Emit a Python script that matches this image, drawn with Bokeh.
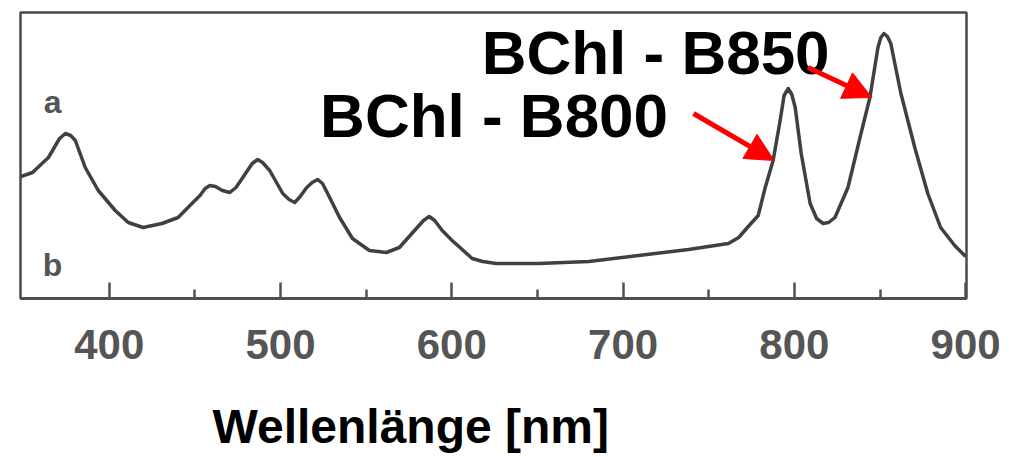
from bokeh.plotting import figure
from bokeh.models import Label, Arrow, NormalHead, FixedTicker, Range1d, Title
from bokeh.embed import file_html
from bokeh.resources import INLINE

# Absorption spectrum (arbitrary absorbance units)
wavelength = [347.0, 355.2, 364.5, 371.0, 374.4, 377.5, 380.2, 386.0, 393.6, 403.5,
              411.1, 419.8, 430.8, 440.2, 448.3, 453.0, 456.0, 458.8, 462.0, 466.0,
              470.4, 474.0, 478.0, 483.5, 486.7, 489.5, 493.7, 501.3, 505.0, 508.3,
              511.5, 515.3, 518.5, 521.7, 524.5, 527.5, 534.5, 542.0, 551.9, 561.8,
              569.4, 579.3, 583.5, 586.8, 590.0, 594.4, 600.2, 611.9, 618.0, 625.8,
              650.9, 680.0, 709.1, 738.2, 761.5, 767.5, 773.1, 778.9, 783.0, 787.6,
              791.7, 794.0, 796.4, 798.5, 800.5, 804.0, 809.2, 813.0, 816.8, 820.0,
              823.7, 831.3, 838.9, 844.1, 848.8, 850.5, 852.3, 854.3, 856.3, 862.2,
              870.3, 877.9, 885.4, 893.6, 900.0]
absorbance = [1.13, 1.18, 1.33, 1.52, 1.57, 1.55, 1.50, 1.23, 1.00, 0.80,
              0.68, 0.63, 0.67, 0.73, 0.87, 0.95, 1.02, 1.05, 1.04, 1.00,
              0.98, 1.03, 1.13, 1.27, 1.31, 1.28, 1.20, 0.97, 0.91, 0.88,
              0.94, 1.03, 1.08, 1.11, 1.07, 0.97, 0.73, 0.52, 0.40, 0.38,
              0.43, 0.62, 0.70, 0.74, 0.70, 0.60, 0.50, 0.32, 0.29, 0.27,
              0.27, 0.29, 0.35, 0.41, 0.47, 0.53, 0.64, 0.75, 1.03, 1.30,
              1.70, 1.95, 2.02, 1.96, 1.83, 1.37, 0.87, 0.72, 0.67, 0.68,
              0.73, 1.03, 1.57, 1.93, 2.43, 2.53, 2.57, 2.54, 2.47, 1.97,
              1.43, 0.97, 0.63, 0.45, 0.34]

major_ticks = [400, 500, 600, 700, 800, 900]
minor_ticks = [450, 550, 650, 750, 850]
tick_labels = {400: "400", 500: "500", 600: "600", 700: "700", 800: "800", 900: "900"}

x_title = "Wellenlänge [nm]"
label_b800 = "BChl - B800"
label_b850 = "BChl - B850"

p = figure(width=1023, height=457, output_backend="svg", toolbar_location=None,
           x_range=Range1d(348.2, 900.5), y_range=Range1d(-0.08, 2.78),
           min_border_left=20, min_border_right=57, min_border_top=12,
           min_border_bottom=159)
p.background_fill_color = "white"
p.border_fill_color = "white"
p.grid.visible = False
p.yaxis.visible = False
p.outline_line_color = "#4a4a4a"
p.outline_line_width = 2.5

ax = p.xaxis[0]
ax.ticker = FixedTicker(ticks=major_ticks, minor_ticks=minor_ticks)
ax.major_label_overrides = tick_labels
ax.axis_line_color = "#505050"
ax.axis_line_width = 3
ax.major_tick_in = 16
ax.major_tick_out = 0
ax.minor_tick_in = 9
ax.minor_tick_out = 0
ax.major_tick_line_color = "#505050"
ax.major_tick_line_width = 2.5
ax.minor_tick_line_color = "#505050"
ax.minor_tick_line_width = 2.5
ax.major_label_standoff = 31
ax.major_label_text_font = "Liberation Sans"
ax.major_label_text_font_style = "bold"
ax.major_label_text_font_size = "42px"
ax.major_label_text_color = "#555555"
# blank axis label used only as vertical spacing before the title
ax.axis_label = " "
ax.axis_label_text_font_size = "1px"
ax.axis_label_standoff = 30

p.add_layout(Title(text=x_title, align="left", offset=192, standoff=4,
                   text_font="Liberation Sans", text_font_style="bold",
                   text_font_size="48px", text_color="black"), "below")

p.line(wavelength, absorbance, line_color="#404040", line_width=3.5,
       line_join="round")

p.add_layout(Label(x=719, y=2.38, text=label_b850, text_font="Liberation Sans",
                   text_font_style="bold", text_font_size="62px", text_color="black",
                   text_align="center", text_baseline="middle"))
p.add_layout(Label(x=624.7, y=1.75, text=label_b800, text_font="Liberation Sans",
                   text_font_style="bold", text_font_size="62px", text_color="black",
                   text_align="center", text_baseline="middle"))
p.add_layout(Label(x=366.9, y=1.89, text="a", text_font="Liberation Sans",
                   text_font_style="bold", text_font_size="32px", text_color="#555555",
                   text_align="center", text_baseline="alphabetic"))
p.add_layout(Label(x=366.9, y=0.26, text="b", text_font="Liberation Sans",
                   text_font_style="bold", text_font_size="32px", text_color="#555555",
                   text_align="center", text_baseline="alphabetic"))

p.add_layout(Arrow(end=NormalHead(size=28, fill_color="red", line_color="red"),
                   x_start=741.1, y_start=1.77, x_end=788.2, y_end=1.30,
                   line_color="red", line_width=5))
p.add_layout(Arrow(end=NormalHead(size=28, fill_color="red", line_color="red"),
                   x_start=808.0, y_start=2.23, x_end=845.3, y_end=1.93,
                   line_color="red", line_width=5))

open("out.html", "w").write(file_html(p, INLINE))
